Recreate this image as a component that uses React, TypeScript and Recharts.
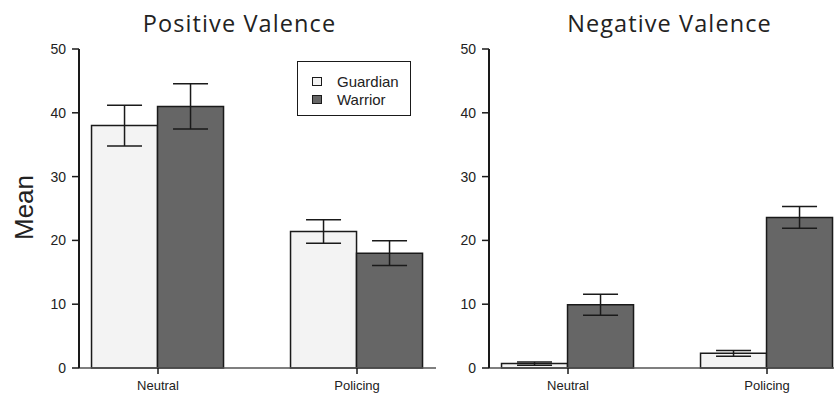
import { BarChart, Bar, XAxis, YAxis, ErrorBar, Legend } from 'recharts';

const categories = ['Neutral', 'Policing'];
const yTicks = [0, 10, 20, 30, 40, 50];
const seriesNames = ['Guardian', 'Warrior'];

const posGuardian = [38.0, 21.4];
const posGuardianErr = [3.2, 1.85];
const posWarrior = [41.0, 18.0];
const posWarriorErr = [3.55, 1.95];

const negGuardian = [0.7, 2.3];
const negGuardianErr = [0.25, 0.45];
const negWarrior = [9.9, 23.6];
const negWarriorErr = [1.65, 1.7];

const GUARDIAN_FILL = '#f3f3f3';
const WARRIOR_FILL = '#666666';
const INK = '#1a1a1a';
const FONT = '"Liberation Sans", Arial, Helvetica, sans-serif';
const TITLE_FONT = '"Open Sans", Lato, sans-serif';

function buildRows(g: number[], gErr: number[], w: number[], wErr: number[]) {
  return categories.map((name, i) => ({
    name,
    guardian: g[i],
    guardianErr: gErr[i],
    warrior: w[i],
    warriorErr: wErr[i],
  }));
}

const positiveData = buildRows(posGuardian, posGuardianErr, posWarrior, posWarriorErr);
const negativeData = buildRows(negGuardian, negGuardianErr, negWarrior, negWarriorErr);

function LegendBox({ payload }: any) {
  return (
    <div
      style={{
        width: 114,
        height: 55,
        boxSizing: 'border-box',
        border: `1.5px solid ${INK}`,
        background: '#fff',
        padding: '10px 0 0 14px',
        fontFamily: FONT,
        fontSize: 15,
        color: '#222',
      }}
    >
      {(payload || []).map((entry: any) => (
        <div key={entry.value} style={{ display: 'flex', alignItems: 'center', height: 18 }}>
          <span
            style={{
              display: 'inline-block',
              width: 10,
              height: 9,
              boxSizing: 'border-box',
              border: `1.5px solid ${INK}`,
              background: entry.color,
              marginRight: 15,
            }}
          />
          <span>{entry.value}</span>
        </div>
      ))}
    </div>
  );
}

function Panel({ data, left, showLegend }: { data: any[]; left: number; showLegend?: boolean }) {
  return (
    <div style={{ position: 'absolute', left, top: 0 }}>
      <BarChart
        width={460}
        height={398}
        data={data}
        margin={{ top: 49, right: 24, bottom: 0, left: 0 }}
        barCategoryGap="16.6%"
        barGap={0}
      >
        <XAxis
          dataKey="name"
          height={30}
          padding={{ left: -20.5, right: -20.5 }}
          tickSize={6}
          tickMargin={7}
          tick={{ fontSize: 13, fill: '#222', fontFamily: FONT }}
          tickLine={{ stroke: INK, strokeWidth: 1.5 }}
          axisLine={{ stroke: '#555', strokeWidth: 1.5 }}
        />
        <XAxis
          xAxisId="top"
          dataKey="name"
          orientation="top"
          height={0}
          tick={false}
          tickLine={false}
          axisLine={{ stroke: INK, strokeWidth: 2 }}
        />
        <YAxis
          width={79}
          domain={[0, 50]}
          ticks={yTicks}
          tickSize={7}
          tickMargin={6}
          tick={{ fontSize: 14, fill: '#222', fontFamily: FONT }}
          tickLine={{ stroke: INK, strokeWidth: 1.5 }}
          axisLine={{ stroke: INK, strokeWidth: 2 }}
        />
        <YAxis
          yAxisId="right"
          orientation="right"
          width={0}
          domain={[0, 50]}
          tick={false}
          tickLine={false}
          axisLine={{ stroke: INK, strokeWidth: 2 }}
        />
        {showLegend && (
          <Legend
            layout="vertical"
            align="center"
            verticalAlign="middle"
            content={<LegendBox />}
            wrapperStyle={{ left: 297, top: 61, width: 114, height: 55 }}
          />
        )}
        <Bar
          dataKey="guardian"
          name={seriesNames[0]}
          fill={GUARDIAN_FILL}
          stroke={INK}
          strokeWidth={1.5}
          isAnimationActive={false}
        >
          <ErrorBar dataKey="guardianErr" width={17.5} stroke={INK} strokeWidth={1.5} direction="y" />
        </Bar>
        <Bar
          dataKey="warrior"
          name={seriesNames[1]}
          fill={WARRIOR_FILL}
          stroke={INK}
          strokeWidth={1.5}
          isAnimationActive={false}
        >
          <ErrorBar dataKey="warriorErr" width={17.5} stroke={INK} strokeWidth={1.5} direction="y" />
        </Bar>
      </BarChart>
    </div>
  );
}

export default function App() {
  return (
    <div
      style={{
        position: 'absolute',
        left: 0,
        top: 0,
        width: 834,
        height: 398,
        overflow: 'hidden',
        background: '#fff',
      }}
    >
      <Panel data={positiveData} left={0} showLegend />
      <Panel data={negativeData} left={410} />
      <svg
        width={834}
        height={398}
        style={{ position: 'absolute', left: 0, top: 0, pointerEvents: 'none' }}
      >
        <text x={239.5} y={32} textAnchor="middle" fontFamily={TITLE_FONT} fontSize={23.5} letterSpacing={1.1} fill="#222">
          Positive Valence
        </text>
        <text x={669.5} y={32} textAnchor="middle" fontFamily={TITLE_FONT} fontSize={23.5} letterSpacing={1.1} fill="#222">
          Negative Valence
        </text>
        <text
          transform="translate(33,207.5) rotate(-90)"
          textAnchor="middle"
          fontFamily={FONT}
          fontSize={26}
          fill="#222"
        >
          Mean
        </text>
      </svg>
    </div>
  );
}
